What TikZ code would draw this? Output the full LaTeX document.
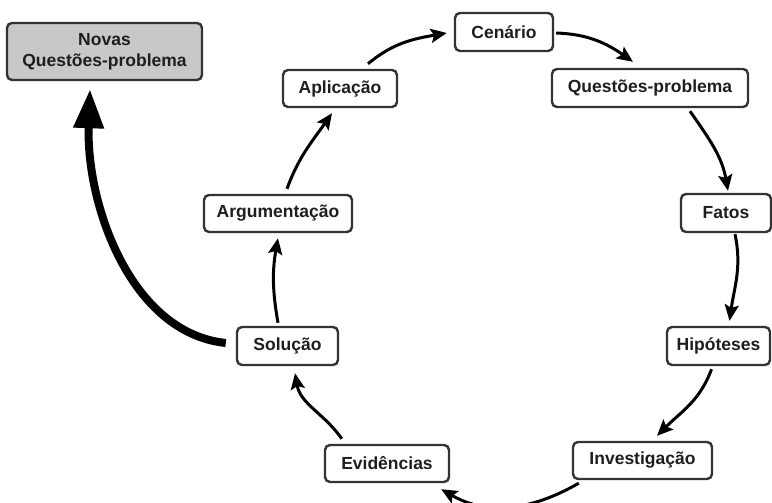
\documentclass[tikz,border=0pt]{standalone}
\usepackage{fontspec}
\setmainfont{Liberation Sans}
\usetikzlibrary{arrows.meta}
\definecolor{boxline}{HTML}{333333}
\definecolor{txt}{HTML}{1E1E1E}
\definecolor{grayfill}{HTML}{C8C8C8}
\begin{document}
\begin{tikzpicture}[x=1pt,y=1pt,
  stepbox/.style={draw=boxline,line width=2.4pt,rounded corners=5pt,fill=white,
    minimum height=37pt,inner sep=0pt,align=center,text=txt,
    font=\fontsize{17.5}{21}\selectfont\bfseries},
  flow/.style={line width=3pt,-{Stealth[length=16pt,width=14pt,inset=3pt]}},
  bigflow/.style={line width=8pt,-{Triangle[length=39pt,width=29pt]}}]
\useasboundingbox (0,0) rectangle (772,503);
\node[stepbox,fill=grayfill,minimum width=195pt,minimum height=57pt] (nov) at (104.5,451.5) {Novas\\Questões-problema};
\node[stepbox,minimum width=114pt] (apl) at (340,414.5) {Aplicação};
\node[stepbox,minimum width=148pt] (arg) at (278,289.5) {Argumentação};
\node[stepbox,minimum width=98pt,minimum height=38pt] (cen) at (504,471) {Cenário};
\node[stepbox,minimum width=196pt,minimum height=38pt] (qp) at (650,415) {Questões-problema};
\node[stepbox,minimum width=90pt,minimum height=38pt] (fat) at (726,290) {Fatos};
\node[stepbox,minimum width=103pt,minimum height=38pt] (hip) at (718.5,157) {Hipóteses};
\node[stepbox,minimum width=139pt] (inv) at (642.5,42.5) {Investigação};
\node[stepbox,minimum width=124pt] (evi) at (387,39.5) {Evidências};
\node[stepbox,minimum width=101pt,minimum height=38pt] (sol) at (287.5,157) {Solução};

\draw[flow] ([xshift=28pt,yshift=5pt]apl.north) to[out=40,in=190] ([xshift=-7pt,yshift=-1pt]cen.west);
\draw[flow] ([xshift=2pt,yshift=-1pt]cen.east) to[out=-2,in=145] ([xshift=-17pt,yshift=6pt]qp.north);
\draw[flow] ([xshift=40pt,yshift=-3pt]qp.south) to[out=-55,in=100] ([xshift=2pt,yshift=2pt]fat.north);
\draw[flow] ([xshift=9pt,yshift=-1pt]fat.south) to[out=-78,in=82] ([xshift=11pt,yshift=5pt]hip.north);
\draw[flow] ([xshift=-7pt,yshift=-3pt]hip.south) to[out=-110,in=45] ([xshift=14.5pt,yshift=5pt]inv.north);
\draw[flow] ([xshift=7pt,yshift=-3pt]inv.south west) to[out=210,in=-30] ([xshift=-9pt,yshift=-6pt]evi.south east);
\draw[flow] ([xshift=18pt,yshift=5pt]evi.north west) to[out=125,in=-80] ([xshift=7.5pt,yshift=-7pt]sol.south);
\draw[flow] ([xshift=-9.5pt,yshift=3pt]sol.north) to[out=100,in=-100] ([yshift=-5pt]arg.south);
\draw[flow] ([xshift=9pt,yshift=5pt]arg.north) to[out=70,in=235] ([xshift=-8pt,yshift=-5pt]apl.south);
\draw[bigflow] ([xshift=-10pt,yshift=3pt]sol.west) .. controls (130,170) and (86,300) .. ([xshift=-14.5pt,yshift=-8pt]nov.south);
\end{tikzpicture}
\end{document}
